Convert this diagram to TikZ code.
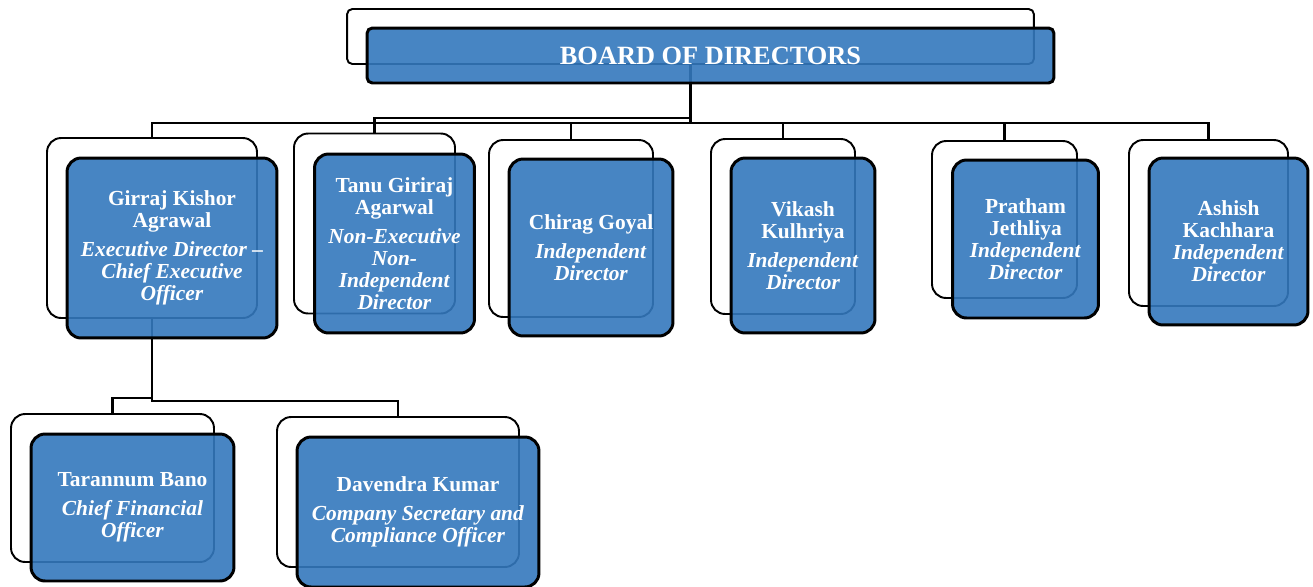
\documentclass[tikz,border=0pt]{standalone}
\usepackage{fontspec}
\setmainfont{Liberation Serif}
\usetikzlibrary{positioning}
\definecolor{boxblue}{RGB}{52,120,189}

\begin{document}
\begin{tikzpicture}[x=0.02cm, y=-0.02cm,
    backbox/.style={draw, line width=1.1pt, fill=white, rounded corners=8pt},
    frontbox/.style={draw, line width=1.7pt, fill=boxblue, fill opacity=0.9, text opacity=1,
        text=white, rounded corners=8pt, align=center, inner sep=0pt,
        font=\fontsize{12.2}{12.5}\selectfont\bfseries},
    link/.style={line width=1.4pt}]

\useasboundingbox (0,0) rectangle (1313,586);

% Back boxes
\node[backbox, rounded corners=3pt, minimum width=13.74cm, minimum height=1.1cm] (boardb) at (690.5,36.5) {};
\node[backbox, minimum width=4.2cm, minimum height=3.6cm] (girrajb) at (152,228) {};
\node[backbox, minimum width=3.22cm, minimum height=3.6cm] (tanub) at (374.5,223.5) {};
\node[backbox, minimum width=3.28cm, minimum height=3.54cm] (chiragb) at (571,228.5) {};
\node[backbox, minimum width=2.88cm, minimum height=3.5cm] (vikashb) at (783,226.5) {};
\node[backbox, minimum width=2.9cm, minimum height=3.14cm] (prathamb) at (1004.5,219.5) {};
\node[backbox, minimum width=3.18cm, minimum height=3.32cm] (ashishb) at (1208.5,223) {};
\node[backbox, minimum width=4.06cm, minimum height=2.96cm] (taranb) at (112.5,488) {};
\node[backbox, minimum width=4.84cm, minimum height=3.0cm] (davendrab) at (398,492) {};

% Connectors
\draw[link] (boardb.south) -- ++(0,58) -| (girrajb.north);
\draw[link] (boardb.south) -- ++(0,53) -| (tanub.north);
\draw[link] (boardb.south) -- ++(0,58) -| (chiragb.north);
\draw[link] (boardb.south) -- ++(0,58) -| (vikashb.north);
\draw[link] (boardb.south) -- ++(0,58) -| (prathamb.north);
\draw[link] (boardb.south) -- ++(0,58) -| (ashishb.north);
\draw[link] (girrajb.south) -- ++(0,79) -| (taranb.north);
\draw[link] (girrajb.south) -- ++(0,82) -| (davendrab.north);

% Front boxes
\node[frontbox, rounded corners=3pt, minimum width=13.74cm, minimum height=1.1cm,
    font=\fontsize{15}{15}\selectfont\bfseries] (board) at ([shift={(20,19)}]boardb) {BOARD OF DIRECTORS};
\node[frontbox, minimum width=4.2cm, minimum height=3.6cm] (girraj) at ([shift={(20,20)}]girrajb)
    {Girraj Kishor\\Agrawal\\[4pt]\textit{Executive Director --}\\\textit{Chief Executive}\\\textit{Officer}};
\node[frontbox, minimum width=3.2cm, minimum height=3.58cm] (tanu) at ([shift={(20,20)}]tanub)
    {Tanu Giriraj\\Agarwal\\[4pt]\textit{Non-Executive}\\\textit{Non-}\\\textit{Independent}\\\textit{Director}};
\node[frontbox, minimum width=3.28cm, minimum height=3.54cm] (chirag) at ([shift={(20,19)}]chiragb)
    {Chirag Goyal\\[4pt]\textit{Independent}\\\textit{Director}};
\node[frontbox, minimum width=2.88cm, minimum height=3.5cm] (vikash) at ([shift={(20,19)}]vikashb)
    {Vikash\\Kulhriya\\[4pt]\textit{Independent}\\\textit{Director}};
\node[frontbox, minimum width=2.92cm, minimum height=3.16cm] (pratham) at ([shift={(21,19.5)}]prathamb)
    {Pratham\\Jethliya\\\textit{Independent}\\\textit{Director}};
\node[frontbox, minimum width=3.18cm, minimum height=3.34cm] (ashish) at ([shift={(20,18.5)}]ashishb)
    {Ashish\\Kachhara\\\textit{Independent}\\\textit{Director}};
\node[frontbox, minimum width=4.06cm, minimum height=2.94cm] (taran) at ([shift={(20,19.5)}]taranb)
    {Tarannum Bano\\[4pt]\textit{Chief Financial}\\\textit{Officer}};
\node[frontbox, minimum width=4.84cm, minimum height=3.0cm] (davendra) at ([shift={(20,20)}]davendrab)
    {Davendra Kumar\\[4pt]\textit{Company Secretary and}\\\textit{Compliance Officer}};

\end{tikzpicture}
\end{document}
